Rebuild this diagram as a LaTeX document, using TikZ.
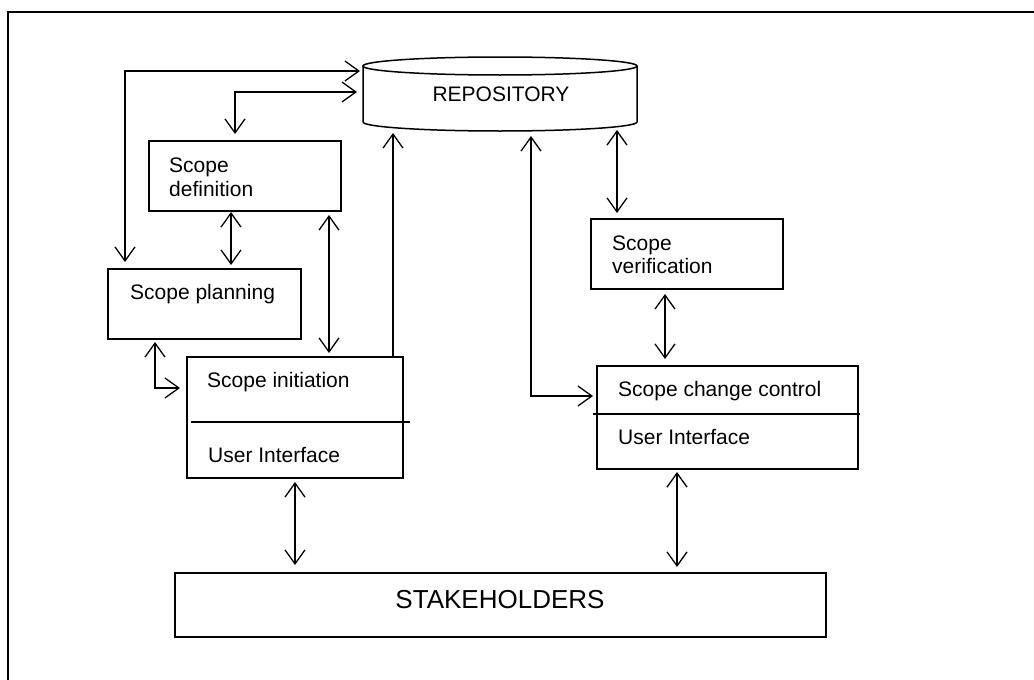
\documentclass[tikz,border=0pt]{standalone}
\usepackage{fontspec}
\setmainfont{Liberation Sans}
\usetikzlibrary{arrows.meta,calc}
\begin{document}
\begin{tikzpicture}[x=1pt,y=-1pt,
  box/.style={draw, line width=1.5pt, rectangle, inner sep=0pt, outer sep=0pt},
  lbl/.style={anchor=base west, inner sep=0pt, font=\fontsize{21}{24}\selectfont},
  barb/.style={Straight Barb[length=14pt,width=20pt]},
  bi/.style={line width=1.3pt, {Straight Barb[length=14pt,width=20pt]}-{Straight Barb[length=14pt,width=20pt]}},
  uni/.style={line width=1.3pt, -{Straight Barb[length=14pt,width=20pt]}},
  rule/.style={line width=1.5pt}]
\useasboundingbox (0,0) rectangle (1034,680);

% page frame
\draw[rule] (8,700) -- (8,12) -- (1050,12);

% boxes
\node[box, minimum width=192pt, minimum height=70pt]  (def)    at (245,176)   {};
\node[box, minimum width=193pt, minimum height=70pt]  (plan)   at (204.5,304) {};
\node[box, minimum width=216pt, minimum height=121pt] (init)   at (295,417.5) {};
\node[box, minimum width=192pt, minimum height=70pt]  (verif)  at (687,254)   {};
\node[box, minimum width=261pt, minimum height=103pt] (change) at (727.5,417.5) {};
\node[box, minimum width=651pt, minimum height=64pt]  (stake)  at (500.5,605) {};

% repository cylinder
\node[inner sep=0pt, outer sep=0pt, minimum width=274pt, minimum height=74pt] (repo) at (500,94) {};
\draw[rule] ($(repo.north)+(0,9)$) ellipse [x radius=137pt, y radius=9pt];
\draw[rule] ($(repo.north west)+(0,9)$) -- ($(repo.south west)+(0,-9)$)
  arc [start angle=180, end angle=360, x radius=137pt, y radius=9pt]
  -- ($(repo.north east)+(0,9)$);

% compartment rules
\draw[rule] ($(init.north west)+(4,65)$) -- ($(init.north east)+(7,65)$);
\draw[rule] ($(change.north west)+(-4,48)$) -- ($(change.north east)+(2,48)$);

% labels
\node[anchor=base, inner sep=0pt, font=\fontsize{21}{24}\selectfont] (repotxt) at (501,101) {REPOSITORY};
\node[lbl] (defa)  at (169,172) {Scope};
\node[lbl] (defb)  at (169,196) {definition};
\node[lbl] (plana) at (130,299) {Scope planning};
\node[lbl] (inita) at (207,387) {Scope initiation};
\node[lbl] (initb) at (208,462) {User Interface};
\node[lbl] (vera)  at (612,250) {Scope};
\node[lbl] (verb)  at (612,273) {verification};
\node[lbl] (cha)   at (618,396) {Scope change control};
\node[lbl] (chb)   at (618,444) {User Interface};
\node[anchor=base, inner sep=0pt, font=\fontsize{26}{30}\selectfont] (staketxt) at (500,608) {STAKEHOLDERS};

% connectors
\draw[bi] ($(plan.north west)+(17,-7)$) |- ($(repo.north west)+(-3,14)$);
\draw[bi] ($(def.north west)+(86,-7)$) |- ($(repo.north west)+(-6,35)$);
\draw[bi] ($(def.south west)+(82,1)$) -- ($(plan.north west)+(123,-4)$);
\draw[bi] ($(def.south west)+(180,4)$) -- ($(init.north west)+(142,-4)$);
\draw[uni] ($(init.north west)+(206,0)$) -- ($(repo.south west)+(30,2)$);
\draw[bi] ($(plan.south west)+(47,3)$) |- ($(init.north west)+(-7,31)$);
\draw[bi] ($(repo.south west)+(254,-1)$) -- ($(verif.north west)+(26,-6)$);
\draw[bi] ($(verif.south west)+(74,5)$) -- ($(change.north west)+(68,-7)$);
\draw[bi] ($(repo.south west)+(168,5)$) |- ($(change.north west)+(-4,30)$);
\draw[bi] ($(init.south west)+(108,4)$) -- ($(stake.north west)+(120,-8)$);
\draw[bi] ($(change.south west)+(80,3)$) -- ($(stake.north west)+(502,-6)$);
\end{tikzpicture}
\end{document}
